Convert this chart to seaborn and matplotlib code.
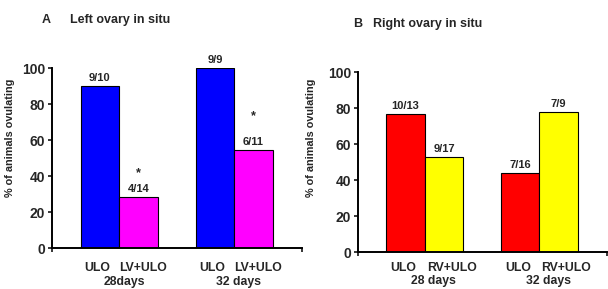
import pandas as pd
import numpy as np
import matplotlib
matplotlib.use('Agg')
import matplotlib.pyplot as plt
import seaborn as sns
from matplotlib.transforms import blended_transform_factory

# data
left_groups = ['28days', '32 days']
left_treat = ['ULO', 'LV+ULO']
left_vals = [[90.0, 100.0], [28.6, 54.5]]      # per treatment, per group
left_counts = [['9/10', '9/9'], ['4/14', '6/11']]
left_signif = ['*', '*']

right_groups = ['28 days', '32 days']
right_treat = ['ULO', 'RV+ULO']
right_vals = [[76.9, 43.8], [52.9, 77.8]]
right_counts = [['10/13', '7/16'], ['9/17', '7/9']]

sns.set_style('white')
plt.rcParams['font.family'] = ['Liberation Sans Narrow', 'Liberation Sans', 'DejaVu Sans']
plt.rcParams['font.weight'] = 'bold'

fig = plt.figure(figsize=(6.08, 2.89), dpi=100)
ax1 = fig.add_axes([52 / 608, 41 / 289, 250 / 608, 180 / 289])
ax2 = fig.add_axes([358 / 608, 37 / 289, 249 / 608, 180 / 289])


def make_df(groups, treat, vals):
    rows = []
    for ti, t in enumerate(treat):
        for gi, g in enumerate(groups):
            rows.append({'group': g, 'treat': t, 'pct': vals[ti][gi]})
    return pd.DataFrame(rows)


def draw(ax, groups, treat, vals, counts, colors, xlab_off, shifts):
    df = make_df(groups, treat, vals)
    sns.barplot(data=df, x='group', y='pct', hue='treat', hue_order=treat,
                order=groups, palette=colors, saturation=1, width=0.67, gap=0,
                edgecolor='black', linewidth=0.8, legend=False, ax=ax)
    ax.set_ylim(0, 100)
    ax.set_xlim(-0.583, 1.59)
    ax.set_yticks([0, 20, 40, 60, 80, 100])
    ax.set_yticklabels(['0', '20', '40', '60', '80', '100'],
                       fontsize=10, fontweight='bold')
    ax.set_xticks(list(ax.get_xlim()))
    ax.set_xticklabels(['', ''])
    ax.tick_params(axis='both', direction='out', length=3, width=1.3,
                   bottom=True, left=True, pad=2)
    for s in ['top', 'right']:
        ax.spines[s].set_visible(False)
    for s in ['left', 'bottom']:
        ax.spines[s].set_linewidth(1.4)
        ax.spines[s].set_color('black')
    ax.set_xlabel('')
    ax.set_ylabel('% of animals ovulating', fontsize=7.8, fontweight='bold')

    trans = blended_transform_factory(ax.transData, ax.transAxes)
    for ti, cont in enumerate(ax.containers):
        ax.bar_label(cont, labels=counts[ti], padding=2, fontsize=8,
                     fontweight='bold')
        for bar in cont:
            xc = bar.get_x() + bar.get_width() / 2
            ax.annotate(treat[ti], xy=(xc, 0), xycoords=trans,
                        xytext=(shifts[ti], -xlab_off),
                        textcoords='offset points',
                        ha='center', va='center', fontsize=8.8,
                        fontweight='bold')
    for gi, g in enumerate(groups):
        ax.annotate(g, xy=(gi, 0), xycoords=trans,
                    xytext=(shifts[2], -xlab_off - 9.7),
                    textcoords='offset points',
                    ha='center', va='center', fontsize=8.8, fontweight='bold')


draw(ax1, left_groups, left_treat, left_vals, left_counts,
     ['#0000FF', '#FF00FF'], 14.5, [-2, 3, 3.5])
ax1.yaxis.set_label_coords(-0.148, 0.61)

# significance stars above LV+ULO bars
star_off = [16.5, 24]
for gi, bar in enumerate(ax1.containers[1]):
    xc = bar.get_x() + bar.get_width() / 2
    ax1.annotate(left_signif[gi], xy=(xc, bar.get_height()),
                 xytext=(0, star_off[gi]), textcoords='offset points',
                 ha='center', va='center', fontsize=9, fontweight='bold')

draw(ax2, right_groups, right_treat, right_vals, right_counts,
     ['#FF0000', '#FFFF00'], 11.5, [-1.5, 5.5, 6.5])
ax2.yaxis.set_label_coords(-0.169, 0.633)

fig.text(42 / 608, 1 - 20 / 289, 'A', fontsize=9, fontweight='bold',
         ha='left', va='center')
fig.text(70 / 608, 1 - 20 / 289, 'Left ovary in situ', fontsize=9,
         fontweight='bold', ha='left', va='center')
fig.text(353 / 608, 1 - 24 / 289, 'B', fontsize=9, fontweight='bold',
         ha='left', va='center')
fig.text(373 / 608, 1 - 24 / 289, 'Right ovary in situ', fontsize=9,
         fontweight='bold', ha='left', va='center')

fig.savefig('out.png', dpi=100)
